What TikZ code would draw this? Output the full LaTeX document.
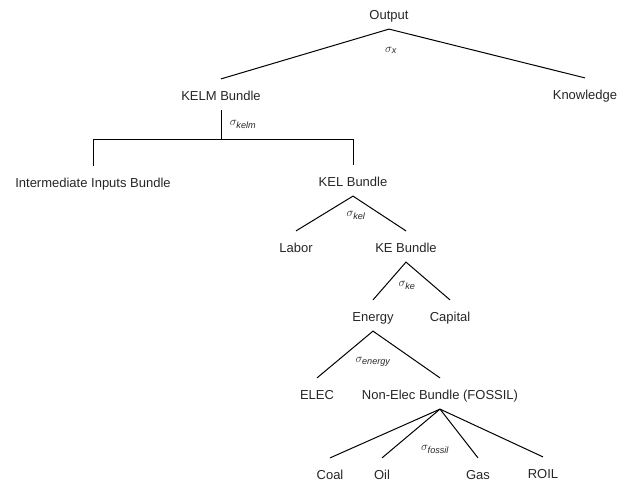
\documentclass[tikz,border=0pt]{standalone}
\usepackage{amsmath}
\usepackage{fontspec}
\setmainfont{Liberation Sans}
\usetikzlibrary{positioning}

\newcommand{\elas}[1]{$\sigma_{\text{\itshape #1}}$}

\begin{document}
\begin{tikzpicture}[
        on grid,
        every node/.style={font=\fontsize{13}{15}\selectfont, text=black!85},
        item/.style={inner xsep=0pt, inner ysep=6pt, text height=15.5pt, text depth=3.3pt},
        sig/.style={inner sep=0pt},
        branch/.style={line width=1pt}
    ]
    \useasboundingbox (0,0) rectangle (631pt,-482pt);

    \node[item] (Output) at (389pt,-13.5pt) {Output};
    \node[item, below left=81pt and 168pt of Output] (KELM) {KELM Bundle};
    \node[item, below right=80pt and 196pt of Output] (Know) {Knowledge};
    \node[item, below left=87pt and 128pt of KELM] (Inter) {Intermediate Inputs Bundle};
    \node[item, below right=86pt and 132pt of KELM] (KEL) {KEL Bundle};
    \node[item, below left=66pt and 57pt of KEL] (Labor) {Labor};
    \node[item, below right=66pt and 53pt of KEL] (KE) {KE Bundle};
    \node[item, below left=69pt and 33pt of KE] (Energy) {Energy};
    \node[item, below right=69pt and 44pt of KE] (Capital) {Capital};
    \node[item, below left=78pt and 56pt of Energy] (Elec) {ELEC};
    \node[item, below right=78pt and 67pt of Energy] (Fossil) {Non-Elec Bundle (FOSSIL)};
    \node[item, below left=80pt and 110pt of Fossil] (Coal) {Coal};
    \node[item, below left=80pt and 58pt of Fossil] (Oil) {Oil};
    \node[item, below right=80pt and 38pt of Fossil] (Gas) {Gas};
    \node[item, below right=79pt and 103pt of Fossil] (Roil) {ROIL};

    % elasticities
    \node[sig, below right=37pt and 2pt of Output] (sx) {\elas{x}};
    \node[sig, below right=30pt and 22pt of KELM] (skelm) {\elas{kelm}};
    \node[sig, below right=35pt and 3pt of KEL] (skel) {\elas{kel}};
    \node[sig, below right=39pt and 1pt of KE] (ske) {\elas{ke}};
    \node[sig, below=46pt of Energy] (senergy) {\elas{energy}};
    \node[sig, below left=56pt and 5pt of Fossil] (sfossil) {\elas{fossil}};

    \coordinate[below=44.5pt of KELM] (split);

    \draw[branch] (KELM.north) -- (Output.south) -- (Know.north);
    \draw[branch] (KELM.south) -- (split);
    \draw[branch] (Inter.north) -- (Inter.north |- split) -- (KEL.north |- split) -- (KEL.north);
    \draw[branch] (Labor.north) -- (KEL.south) -- (KE.north);
    \draw[branch] (Energy.north) -- (KE.south) -- (Capital.north);
    \draw[branch] (Elec.north) -- (Energy.south) -- (Fossil.north);
    \draw[branch] (Fossil.south) -- (Coal.north);
    \draw[branch] (Fossil.south) -- (Oil.north);
    \draw[branch] (Fossil.south) -- (Gas.north);
    \draw[branch] (Fossil.south) -- (Roil.north);

\end{tikzpicture}
\end{document}
